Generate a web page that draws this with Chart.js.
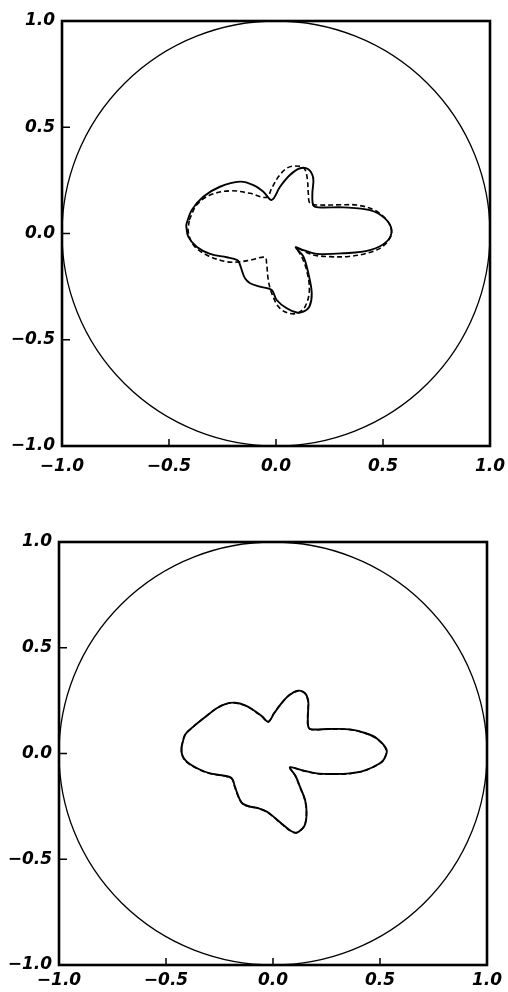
<!DOCTYPE html>
<html>
<head>
<meta charset="utf-8">
<script src="https://cdn.jsdelivr.net/npm/chart.js@4.4.0/dist/chart.umd.min.js"></script>
<style>
  html, body { margin: 0; padding: 0; background: #fff; }
  #wrap { position: relative; width: 508px; height: 992px; }
  .box { position: absolute; left: 0; width: 508px; height: 496px; }
</style>
</head>
<body>
<div id="wrap">
  <div class="box" style="top:0"><canvas id="c1"></canvas></div>
  <div class="box" style="top:496px"><canvas id="c2"></canvas></div>
</div>
<script>
// ---- data ----
const tickValues = [-1.0, -0.5, 0.0, 0.5, 1.0];
const xTickLabels = ["\u22121.0", "\u22120.5", "0.0", "0.5", "1.0"];
const yTickLabels = ["\u22121.0", "\u22120.5", "0.0", "0.5", "1.0"];
const circleRadius = 1.0;

// top panel, solid curve
const topSolidX = [-0.420,-0.394,-0.340,-0.262,-0.168,-0.106,-0.059,-0.020,0.019,0.065,0.112,0.151,0.174,0.170,0.174,0.198,0.315,0.439,0.509,0.540,0.517,0.439,0.315,0.190,0.128,0.092,0.128,0.151,0.167,0.156,0.128,0.097,0.050,0.003,-0.020,-0.075,-0.121,-0.145,-0.160,-0.171,-0.181,-0.230,-0.308,-0.371,-0.410,-0.420];
const topSolidY = [0.040,0.110,0.173,0.220,0.244,0.228,0.197,0.158,0.220,0.275,0.307,0.302,0.260,0.189,0.134,0.123,0.123,0.110,0.071,0.016,-0.038,-0.078,-0.093,-0.096,-0.078,-0.065,-0.109,-0.187,-0.281,-0.344,-0.368,-0.372,-0.352,-0.313,-0.266,-0.250,-0.234,-0.211,-0.172,-0.140,-0.125,-0.112,-0.096,-0.062,-0.015,0.040];

// top panel, dashed curve
const topDashX = [-0.405,-0.371,-0.308,-0.215,-0.121,-0.044,-0.020,0.011,0.050,0.089,0.131,0.146,0.151,0.159,0.206,0.300,0.377,0.460,0.520,0.540,0.500,0.424,0.340,0.252,0.170,0.100,0.120,0.143,0.156,0.136,0.097,0.050,0.011,-0.020,-0.036,-0.044,-0.051,-0.120,-0.168,-0.230,-0.324,-0.386,-0.410,-0.405];
const topDashY = [0.064,0.134,0.181,0.201,0.189,0.170,0.213,0.267,0.307,0.318,0.307,0.260,0.189,0.142,0.134,0.135,0.134,0.110,0.060,0.000,-0.060,-0.093,-0.108,-0.109,-0.100,-0.070,-0.109,-0.172,-0.266,-0.344,-0.376,-0.372,-0.344,-0.281,-0.219,-0.140,-0.112,-0.125,-0.133,-0.133,-0.101,-0.054,0.008,0.064];

// bottom panel, solid curve
const botSolidX = [-0.427,-0.410,-0.372,-0.320,-0.263,-0.220,-0.178,-0.130,-0.092,-0.050,-0.022,0.005,0.033,0.075,0.118,0.150,0.165,0.163,0.165,0.181,0.260,0.360,0.430,0.484,0.531,0.520,0.500,0.430,0.360,0.280,0.204,0.140,0.079,0.105,0.126,0.150,0.157,0.148,0.120,0.103,0.075,0.048,0.010,-0.029,-0.070,-0.107,-0.140,-0.154,-0.168,-0.178,-0.193,-0.240,-0.294,-0.350,-0.403,-0.425,-0.427];
const botSolidY = [0.032,0.090,0.127,0.170,0.214,0.235,0.240,0.228,0.206,0.175,0.150,0.190,0.229,0.275,0.297,0.285,0.245,0.180,0.127,0.114,0.116,0.114,0.097,0.072,0.017,-0.025,-0.046,-0.080,-0.094,-0.097,-0.094,-0.080,-0.065,-0.105,-0.157,-0.220,-0.283,-0.340,-0.370,-0.374,-0.360,-0.338,-0.305,-0.275,-0.258,-0.251,-0.238,-0.220,-0.185,-0.157,-0.117,-0.103,-0.094,-0.072,-0.039,-0.005,0.032];

// bottom panel, dashed curve
const botDashX = [-0.428,-0.411,-0.373,-0.321,-0.264,-0.221,-0.178,-0.131,-0.093,-0.051,-0.023,0.004,0.032,0.074,0.117,0.149,0.164,0.162,0.164,0.180,0.259,0.359,0.429,0.483,0.530,0.519,0.499,0.429,0.359,0.279,0.203,0.139,0.080,0.104,0.125,0.149,0.156,0.147,0.119,0.102,0.074,0.047,0.009,-0.030,-0.071,-0.108,-0.141,-0.155,-0.169,-0.179,-0.194,-0.241,-0.295,-0.351,-0.404,-0.426,-0.428];
const botDashY = [0.031,0.089,0.126,0.169,0.213,0.234,0.239,0.227,0.205,0.174,0.149,0.189,0.228,0.274,0.296,0.284,0.244,0.179,0.126,0.113,0.115,0.113,0.096,0.071,0.016,-0.026,-0.047,-0.081,-0.095,-0.098,-0.095,-0.081,-0.066,-0.106,-0.158,-0.221,-0.284,-0.341,-0.371,-0.375,-0.361,-0.339,-0.306,-0.276,-0.259,-0.252,-0.239,-0.221,-0.186,-0.158,-0.118,-0.104,-0.095,-0.073,-0.040,-0.006,0.031];

// ---- helpers ----
function pts(xs, ys) { return xs.map((x, i) => ({ x: x, y: ys[i] })); }
const tickFont = { family: "'DejaVu Sans', sans-serif", size: 17, style: 'italic', weight: 'bold' };

const framePlugin = {
  id: 'frame',
  beforeDatasetsDraw(chart) {
    const { ctx, scales: { x, y } } = chart;
    const cx = x.getPixelForValue(0), cy = y.getPixelForValue(0);
    const rx = x.getPixelForValue(circleRadius) - cx;
    const ry = cy - y.getPixelForValue(circleRadius);
    ctx.save();
    ctx.strokeStyle = '#000';
    ctx.lineWidth = 1.3;
    ctx.beginPath();
    ctx.ellipse(cx, cy, rx, ry, 0, 0, Math.PI * 2);
    ctx.stroke();
    ctx.restore();
  },
  afterDraw(chart) {
    const { ctx, chartArea: a, scales: { x, y } } = chart;
    ctx.save();
    ctx.strokeStyle = '#000';
    ctx.lineWidth = 1.5;
    ctx.beginPath();
    x.ticks.forEach((t, i) => {
      const px = x.getPixelForTick(i);
      ctx.moveTo(px, a.bottom);
      ctx.lineTo(px, a.bottom - 7);
    });
    y.ticks.forEach((t, i) => {
      const py = y.getPixelForTick(i);
      ctx.moveTo(a.left, py);
      ctx.lineTo(a.left + 8, py);
    });
    ctx.stroke();
    ctx.lineWidth = 2.6;
    ctx.strokeRect(a.left, a.top, a.right - a.left, a.bottom - a.top);
    ctx.restore();
  }
};

function makeChart(id, solid, dashed, pad, yWidth, xHeight, xPad, yPad) {
  return new Chart(document.getElementById(id), {
    type: 'scatter',
    data: {
      datasets: [
        { data: solid, showLine: true, borderColor: '#000', borderWidth: 1.9, pointRadius: 0, tension: 0.35, fill: false },
        { data: dashed, showLine: true, borderColor: '#000', borderWidth: 1.6, borderDash: [5, 3], pointRadius: 0, tension: 0.35, fill: false }
      ]
    },
    options: {
      responsive: true,
      maintainAspectRatio: false,
      animation: false,
      layout: { padding: pad },
      plugins: { legend: { display: false }, tooltip: { enabled: false } },
      scales: {
        x: {
          type: 'linear', min: -1, max: 1,
          afterBuildTicks: s => { s.ticks = tickValues.map(v => ({ value: v })); },
          ticks: { color: '#000', font: tickFont, padding: xPad, maxRotation: 0, autoSkip: false,
                   callback: (v) => xTickLabels[tickValues.indexOf(v)] },
          grid: { display: false, drawTicks: false },
          border: { display: false },
          afterFit: s => { s.height = xHeight; s.paddingLeft = 0; s.paddingRight = 0; }
        },
        y: {
          type: 'linear', min: -1, max: 1,
          afterBuildTicks: s => { s.ticks = tickValues.map(v => ({ value: v })); },
          ticks: { color: '#000', font: tickFont, padding: yPad, autoSkip: false,
                   callback: (v) => yTickLabels[tickValues.indexOf(v)] },
          grid: { display: false, drawTicks: false },
          border: { display: false },
          afterFit: s => { s.width = yWidth; s.paddingTop = 0; s.paddingBottom = 0; }
        }
      }
    },
    plugins: [framePlugin]
  });
}

makeChart('c1', pts(topSolidX, topSolidY), pts(topDashX, topDashY), { top: 21, right: 18, left: 0, bottom: 0 }, 62, 50, 10, 7);
makeChart('c2', pts(botSolidX, botSolidY), pts(botDashX, botDashY), { top: 46, right: 21, left: 0, bottom: 0 }, 59, 27, 5, 7);
</script>
</body>
</html>
